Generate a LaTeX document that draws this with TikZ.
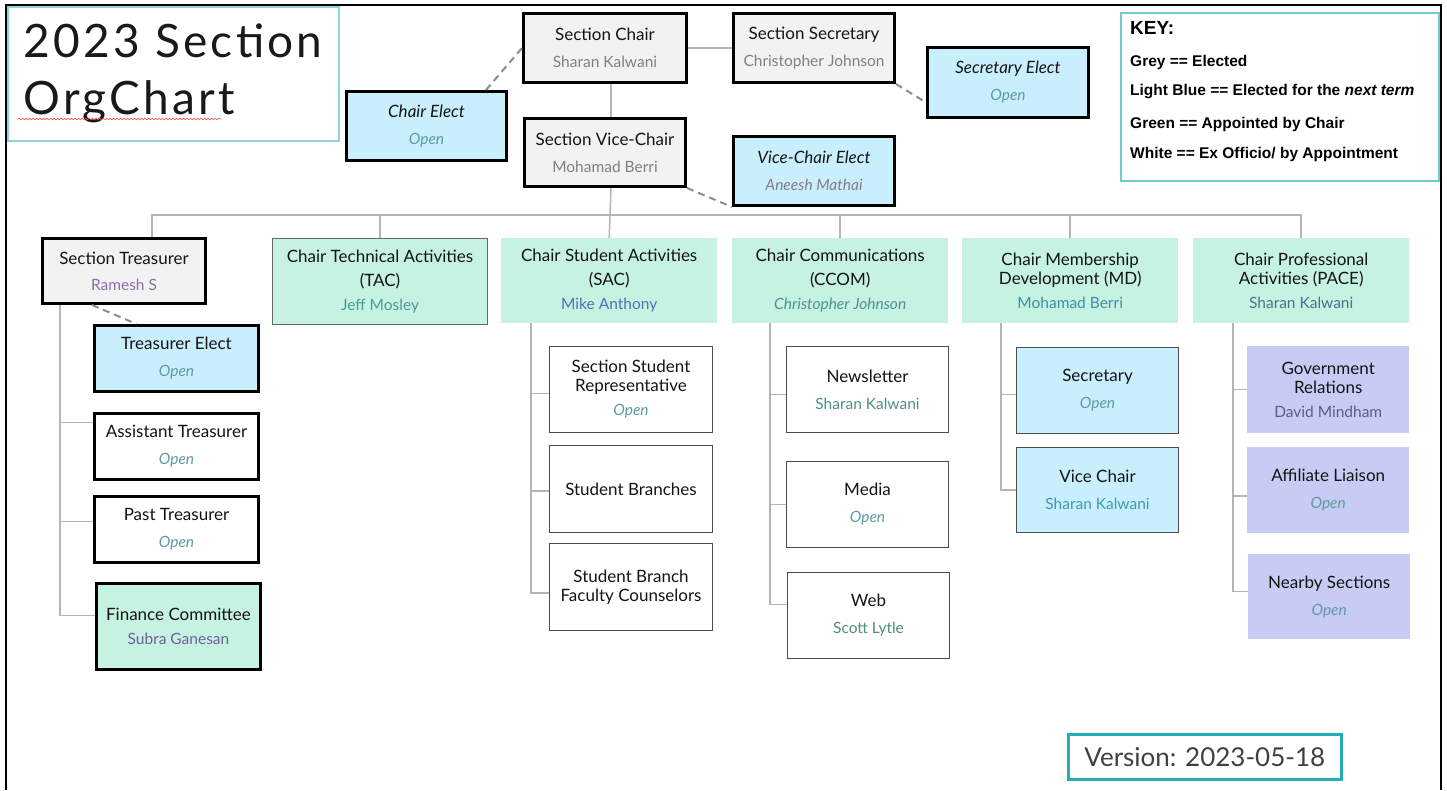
\documentclass[tikz,border=0pt]{standalone}
\usepackage{fontspec}
\setmainfont{Lato}
\newfontfamily\titlefont[LetterSpace=7]{Lato}
\newfontfamily\keyfont{Liberation Sans}
\usetikzlibrary{calc,decorations.pathmorphing}

\definecolor{electgrey}{HTML}{F2F2F2}
\definecolor{nextblue}{HTML}{C9EEFC}
\definecolor{apptgreen}{HTML}{C6F2E1}
\definecolor{pacelav}{HTML}{C8CCF5}
\definecolor{titleteal}{HTML}{8ED4DA}
\definecolor{keyteal}{HTML}{6FCBD3}
\definecolor{verteal}{HTML}{22B0B8}
\definecolor{linkgrey}{HTML}{B4B4B4}
\definecolor{dashgrey}{HTML}{8C8C8C}
\definecolor{namegrey}{HTML}{808080}
\definecolor{opencol}{HTML}{5F9AA5}
\definecolor{c-ramesh}{HTML}{8E6FA8}
\definecolor{c-jeff}{HTML}{4A9A9A}
\definecolor{c-mike}{HTML}{4F6FB8}
\definecolor{c-ccom}{HTML}{4F8F98}
\definecolor{c-md}{HTML}{3E8EA6}
\definecolor{c-pace}{HTML}{4A7090}
\definecolor{c-news}{HTML}{4F9080}
\definecolor{c-scott}{HTML}{4F9070}
\definecolor{c-mdvc}{HTML}{3E9AB0}
\definecolor{c-david}{HTML}{5A5A90}
\definecolor{c-subra}{HTML}{6E5F9A}

\newcommand{\who}[2][namegrey]{{\fontsize{15.5}{18}\selectfont\color{#1}#2}}
\newcommand{\vacant}{\who[opencol]{\itshape Open}}

\tikzset{
  role/.style={anchor=north west, align=center, inner sep=2pt, text=black!92,
    font=\fontsize{17}{19}\selectfont, minimum width=163pt, minimum height=86pt},
  elected/.style={role, draw=black, fill=electgrey, line width=3pt},
  nextterm/.style={role, draw=black, fill=nextblue, line width=3pt},
  nextthin/.style={role, draw=black!70, fill=nextblue, line width=1pt},
  appointed/.style={role, fill=apptgreen, minimum width=216pt, minimum height=85pt},
  officer/.style={role, draw=black, fill=white, line width=3pt},
  member/.style={role, draw=black!70, fill=white, line width=1pt},
  liaison/.style={role, fill=pacelav},
  link/.style={draw=linkgrey, line width=1.5pt},
  elect/.style={draw=dashgrey, line width=2pt, dash pattern=on 7pt off 5pt},
  keyline/.style={anchor=west, inner sep=0pt, font=\keyfont\bfseries\fontsize{15.5}{18}\selectfont}
}

\begin{document}
\begin{tikzpicture}[x=1pt,y=1pt]
    \useasboundingbox (0,0) rectangle (1447,-790);
    \draw[line width=2pt] (6,-790) -- (6,-5) -- (1441,-5) -- (1441,-790);

    % title and key
    \node[draw=titleteal, line width=1.5pt, anchor=north west, minimum width=331pt, minimum height=134pt,
          align=left, font=\titlefont\fontsize{46}{57}\selectfont, text=black!90] (title) at (7,-6) {2023 Section\\OrgChart};
    \draw[red!75, line width=0.6pt, decorate, decoration={snake, amplitude=0.8pt, segment length=3.5pt}] (18,-119) -- (221,-119);

    \node[draw=keyteal, line width=1.5pt, anchor=north west, minimum width=318pt, minimum height=168pt] (keybox) at (1120,-12) {};
    \node[keyline, font=\keyfont\bfseries\fontsize{19}{22}\selectfont] (keyhead) at (1130,-28) {KEY:};
    \node[keyline] (keygrey) at (1130,-62) {Grey == Elected};
    \node[keyline] (keyblue) at (1130,-92) {Light Blue == Elected for the \textit{next term}};
    \node[keyline] (keygreen) at (1130,-124) {Green == Appointed by Chair};
    \node[keyline] (keywhite) at (1130,-154) {White == Ex Officio/ by Appointment};

    \node[draw=verteal, line width=2.5pt, anchor=north west, minimum width=273pt, minimum height=45pt,
          font=\fontsize{26}{30}\selectfont, text=black!75] (version) at (1067,-733) {Version: 2023-05-18};

    % officers
    \node[elected, minimum width=163pt, minimum height=69pt] (chair) at (522,-12) {Section Chair\\[8pt]\who{Sharan Kalwani}};
    \node[elected, minimum width=161pt, minimum height=69pt] (secr) at (732,-12) {Section Secretary\\[8pt]\who{Christopher Johnson}};
    \node[nextterm, minimum width=160pt, minimum height=69pt] (chairel) at (345,-90) {\textit{Chair Elect}\\[8pt]\vacant};
    \node[nextterm, minimum width=161pt, minimum height=70pt] (secrel) at (926,-46) {\textit{Secretary Elect}\\[8pt]\vacant};
    \node[elected, minimum width=161pt, minimum height=68pt] (vice) at (523,-117) {Section Vice-Chair\\[8pt]\who{Mohamad Berri}};
    \node[nextterm, minimum width=161pt, minimum height=69pt] (viceel) at (732,-135) {\textit{Vice-Chair Elect}\\[8pt]\who{\itshape Aneesh Mathai}};

    % committee chairs
    \node[elected, minimum height=65pt] (treas) at (41,-237) {Section Treasurer\\[7pt]\who[c-ramesh]{Ramesh S}};
    \node[appointed, draw=black!60, line width=1pt, minimum width=215pt, minimum height=86pt] (tac) at (272,-238) {Chair Technical Activities\\[5pt](TAC)\\[5pt]\who[c-jeff]{Jeff Mosley}};
    \node[appointed] (sac) at (501,-238) {Chair Student Activities\\[5pt](SAC)\\[5pt]\who[c-mike]{Mike Anthony}};
    \node[appointed] (ccom) at (732,-238) {Chair Communications\\[5pt](CCOM)\\[5pt]\who[c-ccom]{\itshape Christopher Johnson}};
    \node[appointed] (md) at (962,-238) {Chair Membership\\Development (MD)\\[5pt]\who[c-md]{Mohamad Berri}};
    \node[appointed] (pace) at (1193,-238) {Chair Professional\\Activities (PACE)\\[5pt]\who[c-pace]{Sharan Kalwani}};

    % treasurer
    \node[nextterm, minimum width=164pt, minimum height=66pt] (trel) at (93,-324) {Treasurer Elect\\[8pt]\vacant};
    \node[officer, minimum width=164pt, minimum height=66pt] (asst) at (93,-412) {Assistant Treasurer\\[8pt]\vacant};
    \node[officer, minimum width=164pt, minimum height=66pt] (past) at (93,-495) {Past Treasurer\\[8pt]\vacant};
    \node[role, draw=black, fill=apptgreen, line width=3pt, minimum width=164pt] (fin) at (95,-582) {Finance Committee\\[5pt]\who[c-subra]{Subra Ganesan}};

    % students
    \node[member] (ssr) at (549,-346) {Section Student\\Representative\\[5pt]\vacant};
    \node[member, minimum height=87pt] (sb) at (549,-445) {Student Branches};
    \node[member, minimum height=87pt] (sbfc) at (549,-543) {Student Branch\\Faculty Counselors};

    % communications
    \node[member, minimum width=162pt] (news) at (786,-346) {Newsletter\\[8pt]\who[c-news]{Sharan Kalwani}};
    \node[member, minimum width=162pt] (media) at (786,-461) {Media\\[8pt]\vacant};
    \node[member, minimum width=162pt] (web) at (787,-572) {Web\\[8pt]\who[c-scott]{Scott Lytle}};

    % membership
    \node[nextthin, minimum width=162pt] (msec) at (1016,-347) {Secretary\\[8pt]\vacant};
    \node[nextthin, minimum width=162pt, minimum height=85pt] (mvice) at (1016,-447) {Vice Chair\\[8pt]\who[c-mdvc]{Sharan Kalwani}};

    % professional activities
    \node[liaison, minimum width=162pt, minimum height=87pt] (gov) at (1247,-346) {Government\\Relations\\[5pt]\who[c-david]{David Mindham}};
    \node[liaison, minimum width=162pt] (aff) at (1247,-447) {Affiliate Liaison\\[8pt]\vacant};
    \node[liaison, minimum width=162pt, minimum height=85pt] (near) at (1248,-554) {Nearby Sections\\[8pt]\vacant};

    % reporting lines
    \coordinate (bus) at (0,-215);
    \draw[link] (chair.east) -- (secr.west);
    \draw[link] ([xshift=6pt]chair.south) -- ([xshift=6pt]vice.north);
    \draw[link] ([xshift=6pt]vice.south) -- (sac.north);
    \draw[link] ([xshift=28pt]treas.north) |- (pace.north |- bus) -- (pace.north);
    \foreach \n in {tac,ccom,md}
        \draw[link] (\n.north) -- (\n.north |- bus);

    \coordinate (ttrunk) at ([xshift=19pt]treas.south west);
    \coordinate (strunk) at ([xshift=30pt]sac.south west);
    \coordinate (ctrunk) at ([xshift=38pt]ccom.south west);
    \coordinate (mtrunk) at ([xshift=39pt]md.south west);
    \coordinate (ptrunk) at ([xshift=40pt]pace.south west);
    \foreach \c/\s in {asst/24pt, past/8pt, fin/11pt}
        \draw[link] (ttrunk) |- ([yshift=\s]\c.west);
    \foreach \c/\s in {ssr/-4pt, sb/-2pt, sbfc/-6pt}
        \draw[link] (strunk) |- ([yshift=\s]\c.west);
    \foreach \c/\s in {news/-5pt, media/0pt, web/11pt}
        \draw[link] (ctrunk) |- ([yshift=\s]\c.west);
    \foreach \c/\s in {msec/-4pt, mvice/0pt}
        \draw[link] (mtrunk) |- ([yshift=\s]\c.west);
    \foreach \c/\s in {gov/0pt, aff/-6pt, near/5pt}
        \draw[link] (ptrunk) |- ([yshift=\s]\c.west);

    % elect positions
    \draw[elect] ([xshift=-22pt]chairel.north east) -- (chair.west);
    \draw[elect] (secr.south east) -- ([yshift=-20pt]secrel.west);
    \draw[elect] (vice.south east) -- (viceel.south west);
    \draw[elect] ([xshift=-32pt]treas.south) -- ([xshift=-40pt]trel.north);
\end{tikzpicture}
\end{document}
